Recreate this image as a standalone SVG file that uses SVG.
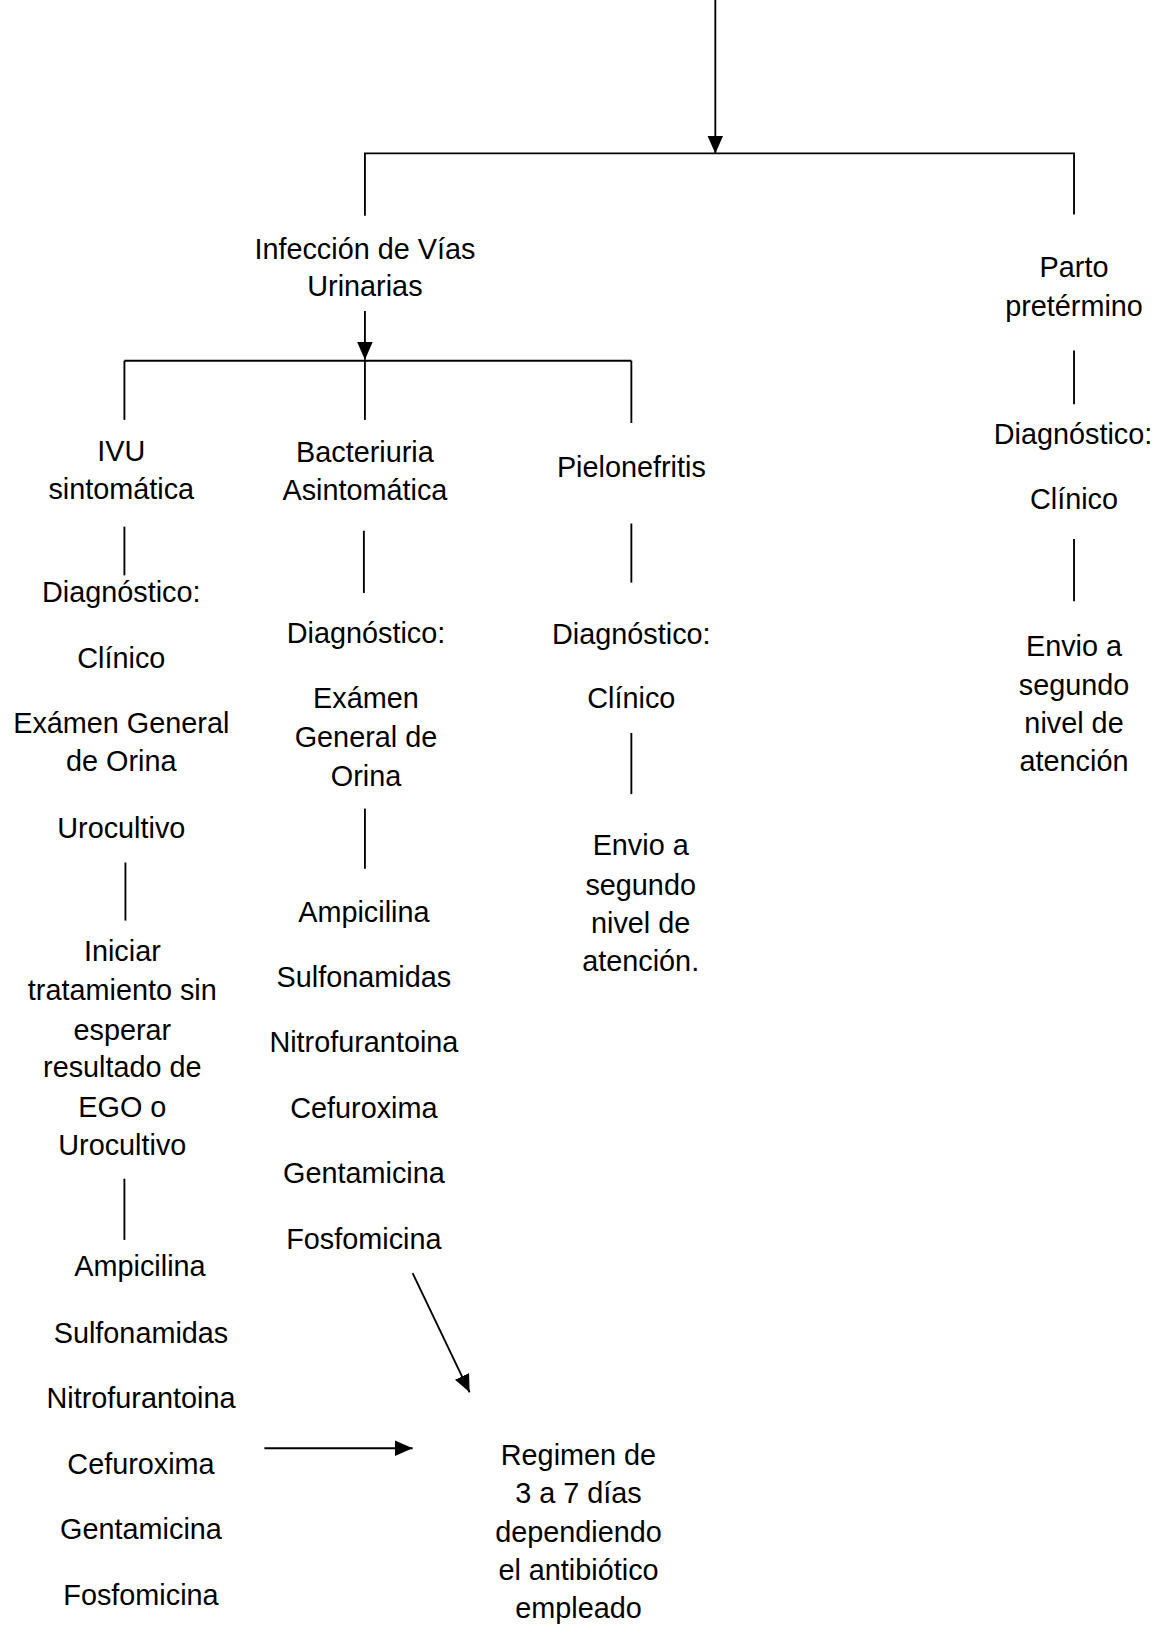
<svg xmlns="http://www.w3.org/2000/svg" width="1157" height="1625" viewBox="0 0 1157 1625">
<defs>
<style>
text{font-family:"Liberation Sans",Arial,sans-serif;font-size:27.8px;fill:#000;text-anchor:middle}
.ln{stroke:#000;stroke-width:1.8;fill:none}
</style>
<marker id="ah" markerUnits="userSpaceOnUse" markerWidth="18" markerHeight="16" refX="17" refY="7.5" orient="auto">
<path d="M0,0 L17,7.5 L0,15 Z" fill="#000"/>
</marker>
</defs>
<rect width="1157" height="1625" fill="#fff"/>
<g transform="scale(1.0367)">
<g id="connectors">
<line class="ln" x1="690" y1="0" x2="690" y2="148" marker-end="url(#ah)"/>
<polyline class="ln" points="352,208 352,148 1036,148 1036,207"/>
<line class="ln" x1="352" y1="300" x2="352" y2="347" marker-end="url(#ah)"/>
<line class="ln" x1="120" y1="348" x2="609" y2="348"/>
<line class="ln" x1="120" y1="348" x2="120" y2="405"/>
<line class="ln" x1="352" y1="348" x2="352" y2="405"/>
<line class="ln" x1="609" y1="348" x2="609" y2="408"/>
<line class="ln" x1="120" y1="508" x2="120" y2="555"/>
<line class="ln" x1="121" y1="832" x2="121" y2="888"/>
<line class="ln" x1="120" y1="1137" x2="120" y2="1196"/>
<line class="ln" x1="351" y1="512" x2="351" y2="572"/>
<line class="ln" x1="352" y1="780" x2="352" y2="838"/>
<line class="ln" x1="398" y1="1228" x2="453" y2="1343" marker-end="url(#ah)"/>
<line class="ln" x1="255" y1="1397" x2="398" y2="1397" marker-end="url(#ah)"/>
<line class="ln" x1="609" y1="505" x2="609" y2="562"/>
<line class="ln" x1="609" y1="707" x2="609" y2="766"/>
<line class="ln" x1="1036" y1="338" x2="1036" y2="390"/>
<line class="ln" x1="1036" y1="520" x2="1036" y2="580"/>
</g>
<g id="ivu-root">
<text x="352" y="250">Infección de Vías</text>
<text x="352" y="286">Urinarias</text>
</g>
<g id="parto">
<text x="1036" y="267">Parto</text>
<text x="1036" y="305">pretérmino</text>
</g>
<g id="parto-dx">
<text x="1035" y="428">Diagnóstico:</text>
<text x="1036" y="491">Clínico</text>
</g>
<g id="parto-envio">
<text x="1036" y="633">Envio a</text>
<text x="1036" y="670">segundo</text>
<text x="1036" y="707">nivel de</text>
<text x="1036" y="744">atención</text>
</g>
<g id="ivu-sint">
<text x="117" y="445">IVU</text>
<text x="117" y="481">sintomática</text>
</g>
<g id="ivu-dx">
<text x="117" y="581">Diagnóstico:</text>
<text x="117" y="644">Clínico</text>
<text x="117" y="707">Exámen General</text>
<text x="117" y="744">de Orina</text>
<text x="117" y="808">Urocultivo</text>
</g>
<g id="ivu-iniciar">
<text x="118" y="927">Iniciar</text>
<text x="118" y="965">tratamiento sin</text>
<text x="118" y="1003">esperar</text>
<text x="118" y="1039">resultado de</text>
<text x="118" y="1077">EGO o</text>
<text x="118" y="1114">Urocultivo</text>
</g>
<g id="ivu-antibioticos">
<text x="135" y="1231">Ampicilina</text>
<text x="136" y="1295">Sulfonamidas</text>
<text x="136" y="1358">Nitrofurantoina</text>
<text x="136" y="1422">Cefuroxima</text>
<text x="136" y="1485">Gentamicina</text>
<text x="136" y="1548">Fosfomicina</text>
</g>
<g id="bact">
<text x="352" y="446">Bacteriuria</text>
<text x="352" y="482">Asintomática</text>
</g>
<g id="bact-dx">
<text x="353" y="620">Diagnóstico:</text>
<text x="353" y="683">Exámen</text>
<text x="353" y="721">General de</text>
<text x="353" y="758">Orina</text>
</g>
<g id="bact-antibioticos">
<text x="351" y="889">Ampicilina</text>
<text x="351" y="952">Sulfonamidas</text>
<text x="351" y="1015">Nitrofurantoina</text>
<text x="351" y="1078">Cefuroxima</text>
<text x="351" y="1141">Gentamicina</text>
<text x="351" y="1205">Fosfomicina</text>
</g>
<g id="pielo">
<text x="609" y="460">Pielonefritis</text>
</g>
<g id="pielo-dx">
<text x="609" y="621">Diagnóstico:</text>
<text x="609" y="683">Clínico</text>
</g>
<g id="pielo-envio">
<text x="618" y="825">Envio a</text>
<text x="618" y="863">segundo</text>
<text x="618" y="900">nivel de</text>
<text x="618" y="937">atención.</text>
</g>
<g id="regimen">
<text x="558" y="1413">Regimen de</text>
<text x="558" y="1450">3 a 7 días</text>
<text x="558" y="1487">dependiendo</text>
<text x="558" y="1524">el antibiótico</text>
<text x="558" y="1561">empleado</text>
</g>
</g>
</svg>
